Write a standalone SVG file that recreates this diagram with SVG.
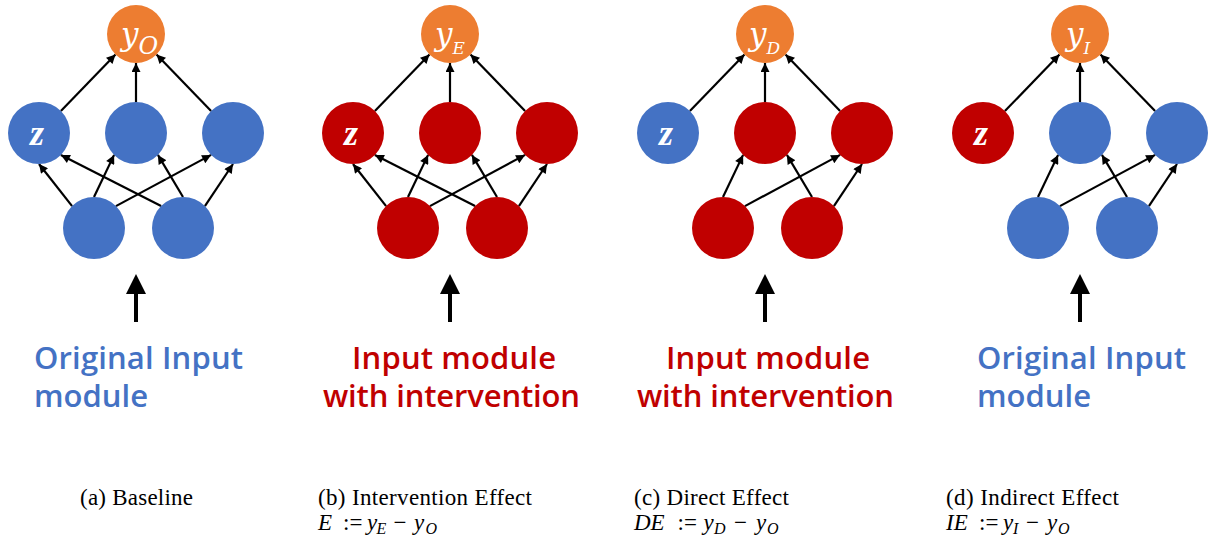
<svg xmlns="http://www.w3.org/2000/svg" width="1210" height="540" viewBox="0 0 1210 540">
<style>
.blue{fill:#4472C4}
.red{fill:#C00000}
.orange{fill:#ED7D31}
.edge{stroke:#000;stroke-width:2.2;fill:none;marker-end:url(#ah)}
.big{stroke:#000;stroke-width:4;fill:none}
.lbl{font-family:"DejaVu Serif",serif;font-style:italic;fill:#fff}
.zl{font-family:"Liberation Serif","Times New Roman",serif;font-style:italic;font-weight:bold;font-size:36px;fill:#fff;text-anchor:middle}
.mod{font-family:"Open Sans","Noto Sans",sans-serif;font-size:31px;font-weight:600}
.tb{fill:#4472C4}
.tr{fill:#C00000}
.cap{font-family:"Liberation Serif","Times New Roman",serif;font-size:23px;fill:#000}
.it{font-style:italic}
.sub{font-size:16px;font-style:italic}
</style>
<defs>
<marker id="ah" viewBox="0 0 10 10" refX="10" refY="5" markerWidth="11" markerHeight="9" markerUnits="userSpaceOnUse" orient="auto">
<path d="M0,0 L10,5 L0,10 Z" fill="#000"/>
</marker>
<g id="edgesFull">
<line class="edge" x1="60.9" y1="111.1" x2="115.5" y2="54.5"/>
<line class="edge" x1="136" y1="102" x2="136" y2="63"/>
<line class="edge" x1="211.1" y1="111.1" x2="156.5" y2="54.5"/>
<line class="edge" x1="72.1" y1="206.1" x2="39" y2="164"/>
<line class="edge" x1="94" y1="197" x2="114.1" y2="154.9"/>
<line class="edge" x1="115.9" y1="206.1" x2="211.1" y2="154.9"/>
<line class="edge" x1="161.1" y1="206.1" x2="60.9" y2="154.9"/>
<line class="edge" x1="183" y1="197" x2="157.9" y2="154.9"/>
<line class="edge" x1="204.9" y1="206.1" x2="233" y2="164"/>
</g>
<g id="edgesCut">
<line class="edge" x1="60.9" y1="111.1" x2="115.5" y2="54.5"/>
<line class="edge" x1="136" y1="102" x2="136" y2="63"/>
<line class="edge" x1="211.1" y1="111.1" x2="156.5" y2="54.5"/>
<line class="edge" x1="94" y1="197" x2="114.1" y2="154.9"/>
<line class="edge" x1="115.9" y1="206.1" x2="211.1" y2="154.9"/>
<line class="edge" x1="183" y1="197" x2="157.9" y2="154.9"/>
<line class="edge" x1="204.9" y1="206.1" x2="233" y2="164"/>
</g>
<g id="bigArrow">
<line class="big" x1="136" y1="322" x2="136" y2="292"/>
<path d="M126,294 L146,294 L136,274 Z" fill="#000"/>
</g>
</defs>

<g id="connectors">
<use href="#edgesFull"/>
<use href="#edgesFull" transform="translate(314,0)"/>
<use href="#edgesCut" transform="translate(629,0)"/>
<use href="#edgesCut" transform="translate(944,0)"/>
<use href="#bigArrow"/>
<use href="#bigArrow" transform="translate(314,0)"/>
<use href="#bigArrow" transform="translate(629,0)"/>
<use href="#bigArrow" transform="translate(944,0)"/>
</g>

<!-- Panel a -->
<g id="a_out"><circle class="orange" cx="136" cy="34" r="29"/><text class="lbl" x="121" y="45" font-size="31">y<tspan font-size="24" dy="9">O</tspan></text></g>
<g id="a_z"><circle class="blue" cx="39" cy="133" r="31"/><text class="zl" x="37" y="145">z</text></g>
<g id="a_m"><circle class="blue" cx="136" cy="133" r="31"/></g>
<g id="a_r"><circle class="blue" cx="233" cy="133" r="31"/></g>
<g id="a_bl"><circle class="blue" cx="94" cy="228" r="31"/></g>
<g id="a_br"><circle class="blue" cx="183" cy="228" r="31"/></g>
<g id="a_text"><text class="mod tb" x="34" y="369" textLength="209">Original Input</text><text class="mod tb" x="34" y="407" textLength="114">module</text></g>
<g id="a_cap"><text class="cap" x="80" y="505" textLength="113">(a) Baseline</text></g>

<!-- Panel b -->
<g id="b_out"><circle class="orange" cx="450" cy="34" r="29"/><text class="lbl" x="435" y="45" font-size="31">y<tspan font-size="17" dy="9">E</tspan></text></g>
<g id="b_z"><circle class="red" cx="353" cy="133" r="31"/><text class="zl" x="351" y="145">z</text></g>
<g id="b_m"><circle class="red" cx="450" cy="133" r="31"/></g>
<g id="b_r"><circle class="red" cx="547" cy="133" r="31"/></g>
<g id="b_bl"><circle class="red" cx="408" cy="228" r="31"/></g>
<g id="b_br"><circle class="red" cx="497" cy="228" r="31"/></g>
<g id="b_text"><text class="mod tr" x="352" y="369" textLength="204">Input module</text><text class="mod tr" x="323" y="407" textLength="257">with intervention</text></g>
<g id="b_cap"><text class="cap" x="318" y="505" textLength="214">(b) Intervention Effect</text>
<text class="cap" y="530"><tspan class="it" x="318">E</tspan><tspan x="343">:=</tspan><tspan class="it" x="367">y</tspan><tspan class="sub" x="376.5" y="534">E</tspan><tspan x="393.5" y="530">−</tspan><tspan class="it" x="414">y</tspan><tspan class="sub" x="425.5" y="534">O</tspan></text></g>

<!-- Panel c -->
<g id="c_out"><circle class="orange" cx="765" cy="34" r="29"/><text class="lbl" x="749" y="45" font-size="31">y<tspan font-size="17" dy="9">D</tspan></text></g>
<g id="c_z"><circle class="blue" cx="668" cy="133" r="31"/><text class="zl" x="666" y="145">z</text></g>
<g id="c_m"><circle class="red" cx="765" cy="133" r="31"/></g>
<g id="c_r"><circle class="red" cx="862" cy="133" r="31"/></g>
<g id="c_bl"><circle class="red" cx="723" cy="228" r="31"/></g>
<g id="c_br"><circle class="red" cx="812" cy="228" r="31"/></g>
<g id="c_text"><text class="mod tr" x="666" y="369" textLength="204">Input module</text><text class="mod tr" x="637" y="407" textLength="257">with intervention</text></g>
<g id="c_cap"><text class="cap" x="634" y="505" textLength="155">(c) Direct Effect</text>
<text class="cap" y="530"><tspan class="it" x="634">DE</tspan><tspan x="677.5">:=</tspan><tspan class="it" x="703.5">y</tspan><tspan class="sub" x="714" y="534">D</tspan><tspan x="734" y="530">−</tspan><tspan class="it" x="756">y</tspan><tspan class="sub" x="767" y="534">O</tspan></text></g>

<!-- Panel d -->
<g id="d_out"><circle class="orange" cx="1080" cy="34" r="29"/><text class="lbl" x="1066" y="45" font-size="31">y<tspan font-size="17" dy="9">I</tspan></text></g>
<g id="d_z"><circle class="red" cx="983" cy="133" r="31"/><text class="zl" x="981" y="145">z</text></g>
<g id="d_m"><circle class="blue" cx="1080" cy="133" r="31"/></g>
<g id="d_r"><circle class="blue" cx="1177" cy="133" r="31"/></g>
<g id="d_bl"><circle class="blue" cx="1038" cy="228" r="31"/></g>
<g id="d_br"><circle class="blue" cx="1127" cy="228" r="31"/></g>
<g id="d_text"><text class="mod tb" x="977" y="369" textLength="209">Original Input</text><text class="mod tb" x="977" y="407" textLength="114">module</text></g>
<g id="d_cap"><text class="cap" x="946" y="505" textLength="173">(d) Indirect Effect</text>
<text class="cap" y="530"><tspan class="it" x="946">IE</tspan><tspan x="979">:=</tspan><tspan class="it" x="1003">y</tspan><tspan class="sub" x="1013" y="534">I</tspan><tspan x="1026" y="530">−</tspan><tspan class="it" x="1047">y</tspan><tspan class="sub" x="1058" y="534">O</tspan></text></g>
</svg>
